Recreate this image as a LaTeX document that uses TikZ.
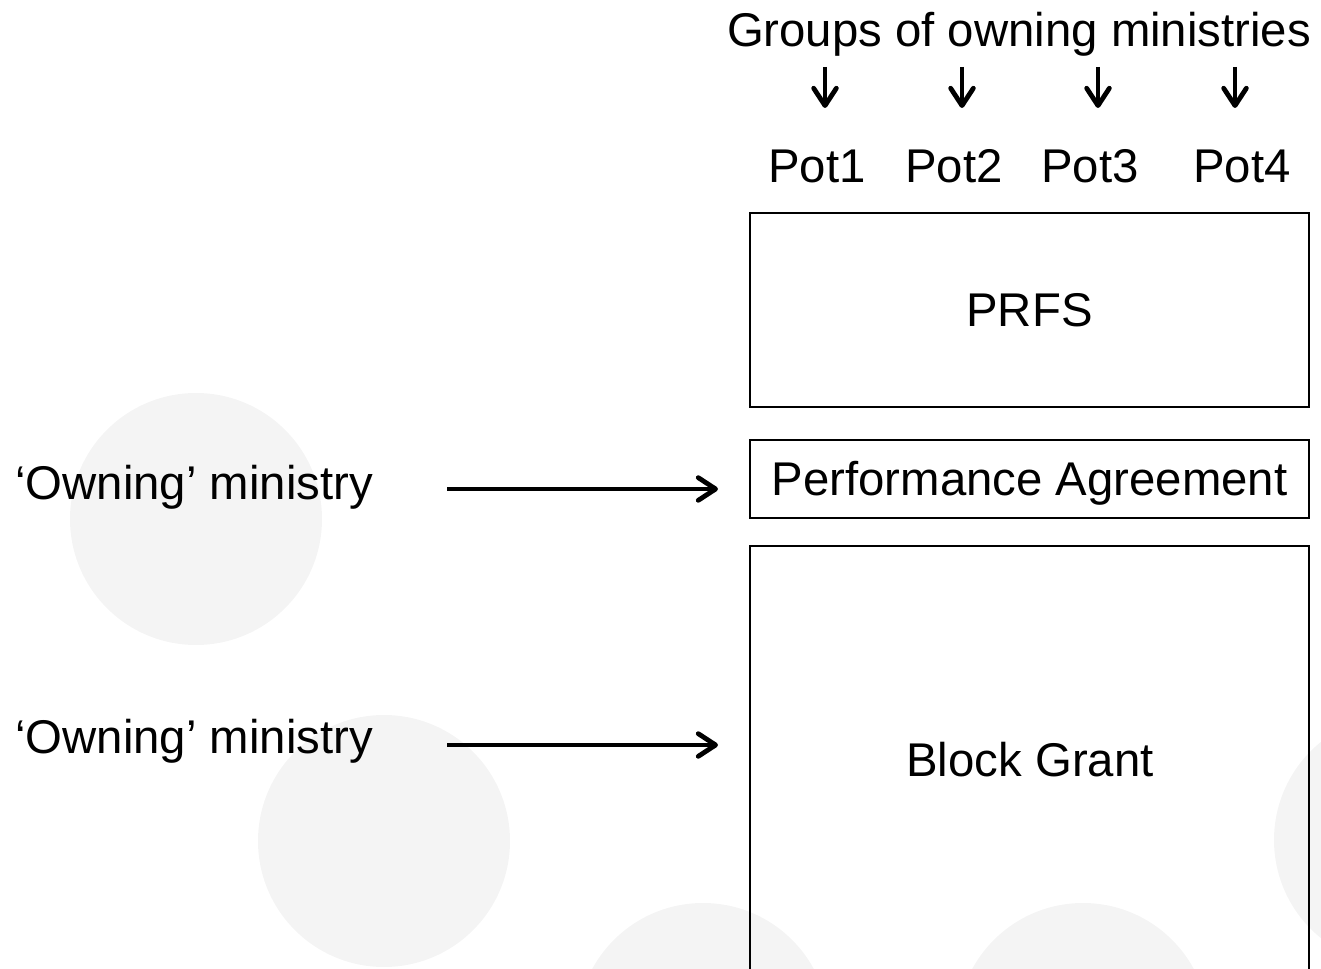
\documentclass[tikz,border=0pt]{standalone}
\usepackage{fontspec}
\setmainfont{Liberation Sans}
\usetikzlibrary{arrows.meta}
\definecolor{circgray}{HTML}{F4F4F4}
\begin{document}
\begin{tikzpicture}[x=0.75pt,y=-0.75pt,
  every node/.style={font=\fontsize{35.5}{42}\selectfont, inner sep=0pt},
  bgcirc/.style={fill=circgray, draw=none},
  box/.style={draw=black, line width=1.5pt, minimum width=419.25pt, text height=25.4pt, text depth=0pt},
  arr/.style={line width=3.6pt, -{Straight Barb[length=13pt,width=17pt,line cap=round,line join=round]}, line cap=butt}
]
\path[use as bounding box] (0,0) rectangle (1321,969);
\begin{scope}
\clip (0,0) rectangle (1321,969);
% background circles
\fill[bgcirc] (196,519) circle[radius=126];
\fill[bgcirc] (384,841) circle[radius=126];
\fill[bgcirc] (703,1029) circle[radius=126];
\fill[bgcirc] (1083,1029) circle[radius=126];
\fill[bgcirc] (1400,840) circle[radius=126];

% top labels
\node[anchor=base] (groups) at (1019,47) {Groups of owning ministries};
\coordinate (s1) at (825,67); \coordinate (e1) at (825,108);
\coordinate (s2) at (962,67); \coordinate (e2) at (962,108);
\coordinate (s3) at (1098,67); \coordinate (e3) at (1098,108);
\coordinate (s4) at (1235,67); \coordinate (e4) at (1235,108);
\foreach \i in {1,...,4} \draw[arr] (s\i) -- (e\i);
\node[anchor=base] (pot1) at (817,183) {Pot1};
\node[anchor=base] (pot2) at (954,183) {Pot2};
\node[anchor=base] (pot3) at (1090,183) {Pot3};
\node[anchor=base] (pot4) at (1242,183) {Pot4};

% boxes
\node[box, minimum height=145.5pt] (prfs) at (1029.5,310) {PRFS};
\node[box, minimum height=58.5pt] (pa) at (1029.5,479) {Performance Agreement};
\draw[line width=1.5pt] (750,546) rectangle (1309,1000);
\node (bg) at (1030,760) [text height=25.4pt, text depth=0pt] {Block Grant};

% left labels
\node[anchor=base west] (own1) at (15,500) {‘Owning’ ministry};
\node[anchor=base west] (own2) at (15,753) {‘Owning’ ministry};
\coordinate (a1s) at (447,489); \coordinate (a1e) at (718,489);
\coordinate (a2s) at (447,745); \coordinate (a2e) at (718,745);
\draw[arr] (a1s) -- (a1e);
\draw[arr] (a2s) -- (a2e);
\end{scope}
\end{tikzpicture}
\end{document}
